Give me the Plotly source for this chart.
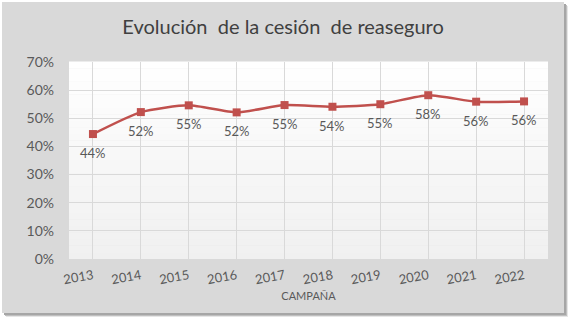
import plotly.graph_objects as go

years = ["2013", "2014", "2015", "2016", "2017", "2018", "2019", "2020", "2021", "2022"]
cession = [44.4, 52.2, 54.6, 52.1, 54.7, 54.1, 55.0, 58.2, 55.9, 56.0]
labels = [f"{round(v):.0f}%" for v in cession]
y_ticks = [0, 10, 20, 30, 40, 50, 60, 70]
y_ticktext = [f"{t}%" for t in y_ticks]

W, H = 573, 323
L, R, T, B = 69, 548, 62, 259
FONT = "Lato, Open Sans, sans-serif"

def px_x(p):
    return (p - L) / (R - L)

def px_y(p):
    return (B - p) / (B - T)

shapes = []
# shadow
for off, col in [(4, "#e6e6e6"), (3, "#bfbfbf"), (2, "#a6a6a6")]:
    shapes.append(dict(type="rect", xref="paper", yref="paper", layer="below",
                       x0=px_x(2 + off), x1=px_x(564 + off), y0=px_y(313 + off), y1=px_y(2 + off),
                       fillcolor=col, line=dict(width=0)))
# panel
shapes.append(dict(type="rect", xref="paper", yref="paper", layer="below",
                   x0=px_x(2), x1=px_x(564), y0=px_y(313), y1=px_y(2),
                   fillcolor="#d9d9d9", line=dict(width=0)))
# gradient plot area
n = 30
for i in range(n):
    f = i / (n - 1)
    c = int(round(255 - (255 - 240) * (1 - f)))
    shapes.append(dict(type="rect", xref="paper", yref="paper", layer="below",
                       x0=0, x1=1, y0=i / n, y1=(i + 1) / n + 0.002,
                       fillcolor=f"rgb({c},{c},{c})", line=dict(width=0)))

fig = go.Figure()
fig.add_trace(go.Scatter(
    x=years, y=cession, mode="lines+markers",
    line=dict(color="#c0504d", width=2.5, shape="spline", smoothing=0.6),
    marker=dict(symbol="square", size=8, color="#c0504d"),
    cliponaxis=False, hoverinfo="skip", showlegend=False,
))

annotations = [
    dict(x=i, y=v, xref="x", yref="y", text=lab, showarrow=False, yshift=-19,
         xanchor="center", yanchor="middle",
         font=dict(family=FONT, size=13, color="#595959"))
    for i, (v, lab) in enumerate(zip(cession, labels))
]

fig.update_layout(
    width=W, height=H,
    margin=dict(l=L, r=W - R, t=T, b=H - B),
    paper_bgcolor="white", plot_bgcolor="rgba(0,0,0,0)",
    shapes=shapes, annotations=annotations,
    title=dict(text="Evolución\u00a0 de la cesión\u00a0 de reaseguro", x=0.494, xanchor="center",
               y=1 - 27 / H, yanchor="middle",
               font=dict(family=FONT, size=20, color="#404040")),
    font=dict(family=FONT, color="#595959"),
    xaxis=dict(type="category", range=[-0.5, 9.5], showgrid=True, gridcolor="#d9d9d9", gridwidth=1,
               ticks="", tickangle=-10, tickfont=dict(size=13, color="#595959"),
               showline=False, zeroline=False, ticklabelstandoff=6,
               title=dict(text="CAMPAÑA", font=dict(size=11, color="#595959"), standoff=6)),
    yaxis=dict(range=[0, 70], tickvals=y_ticks, ticktext=y_ticktext, showgrid=True,
               gridcolor="#d9d9d9", gridwidth=1, ticks="", zeroline=False, showline=False,
               tickfont=dict(size=14, color="#595959"), ticklabelstandoff=14),
)

fig.write_html("out.html")
